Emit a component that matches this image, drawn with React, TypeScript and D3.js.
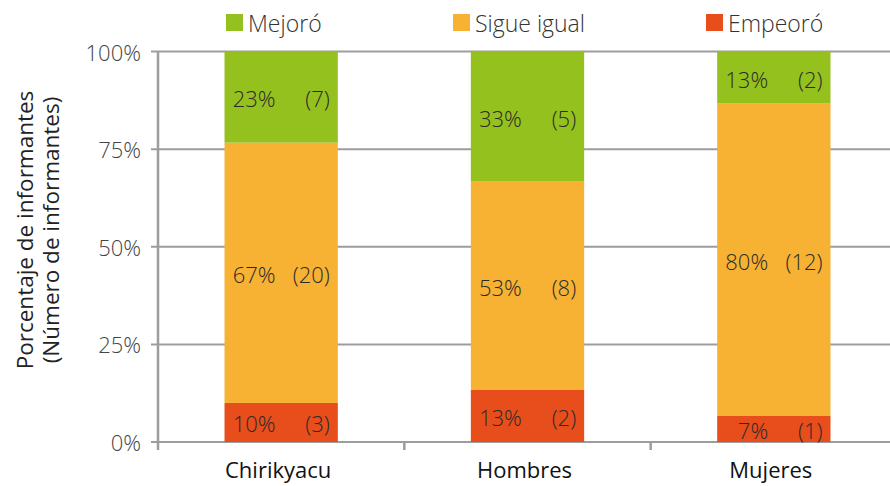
import React from 'react';
import * as d3 from 'd3';

const width = 890;
const height = 486;

const categories = ['Chirikyacu', 'Hombres', 'Mujeres'];
const seriesNames = ['Empeoró', 'Sigue igual', 'Mejoró'];
const legendOrder = ['Mejoró', 'Sigue igual', 'Empeoró'];
const colors = ['#E84E1B', '#F7B133', '#95C11F'];
// counts per category, in order Empeoró, Sigue igual, Mejoró
const empeoro = [3, 2, 1];
const sigueIgual = [20, 8, 12];
const mejoro = [7, 5, 2];
const yTicks = [0, 0.25, 0.5, 0.75, 1];

const font = '"Open Sans", sans-serif';

const App: React.FC = () => {
  const x = d3.scaleBand<string>().domain(categories).range([158, 897]).padding(0);
  const barW = x.bandwidth() * 0.46;
  const y = d3.scaleLinear().domain([0, 1]).range([442, 51.5]);
  const fmt = d3.format('.0%');

  const rows = categories.map((c, i) => {
    const vals = [empeoro[i], sigueIgual[i], mejoro[i]];
    const total = d3.sum(vals);
    let acc = 0;
    return vals.map((v, j) => {
      const y0 = acc / total;
      acc += v;
      const y1 = acc / total;
      return { cat: c, series: seriesNames[j], count: v, pct: v / total, y0, y1, color: colors[j] };
    });
  });

  return (
    <svg width={width} height={height} style={{ position: 'absolute', left: 0, top: 0, background: '#fff' }}>
      {/* grid */}
      {yTicks.map(t => (
        <g key={t}>
          <line x1={151} x2={width} y1={y(t)} y2={y(t)} stroke="#9d9d9d" strokeWidth={2} />
          <text
            x={141}
            y={y(t)}
            textAnchor="end"
            dominantBaseline="central"
            fontFamily={font}
            fontWeight={300}
            fontSize={22}
            fill="#444"
          >
            {fmt(t)}
          </text>
        </g>
      ))}
      {/* y axis */}
      <line x1={158} x2={158} y1={y(1)} y2={450} stroke="#9d9d9d" strokeWidth={2.5} />
      {/* x axis ticks */}
      {categories.slice(1).map(c => (
        <line key={c} x1={x(c)!} x2={x(c)!} y1={y(0)} y2={450} stroke="#9d9d9d" strokeWidth={2.5} />
      ))}

      {/* bars */}
      {rows.map((segs, i) => {
        const left = x(categories[i])! + (x.bandwidth() - barW) / 2;
        return (
          <g key={categories[i]}>
            {segs.map(s => (
              <rect
                key={s.series}
                x={left}
                y={y(s.y1)}
                width={barW}
                height={y(s.y0) - y(s.y1)}
                fill={s.color}
              />
            ))}
            {segs.map(s => {
              const cy = (y(s.y0) + y(s.y1)) / 2 + 1;
              return (
                <g key={s.series + 'l'} fontFamily={font} fontWeight={300} fontSize={22} fill="#2b2b2b">
                  <text x={left + 51} y={cy} textAnchor="end" dominantBaseline="central">
                    {fmt(s.pct)}
                  </text>
                  <text x={left + barW - 8} y={cy} textAnchor="end" dominantBaseline="central">
                    ({s.count})
                  </text>
                </g>
              );
            })}
            <text
              x={x(categories[i])! + x.bandwidth() / 2 - 3}
              y={478}
              textAnchor="middle"
              fontFamily={font}
              fontWeight={500}
              fontSize={22}
              fill="#111"
            >
              {categories[i]}
            </text>
          </g>
        );
      })}

      {/* legend */}
      {legendOrder.map((name, i) => {
        const lx = [226, 453, 706][i];
        return (
          <g key={name}>
            <rect x={lx} y={14} width={17} height={17} fill={colors[seriesNames.indexOf(name)]} />
            <text x={lx + 22} y={23} dominantBaseline="central" fontFamily={font} fontWeight={300} fontSize={23} fill="#333">
              {name}
            </text>
          </g>
        );
      })}

      {/* y title */}
      <g transform="translate(0,230) rotate(-90)" fontFamily={font} fontWeight={400} fontSize={22.5} fill="#222" textAnchor="middle">
        <text x={0} y={33}>Porcentaje de informantes</text>
        <text x={0} y={59}>(Número de informantes)</text>
      </g>
    </svg>
  );
};

export default App;
